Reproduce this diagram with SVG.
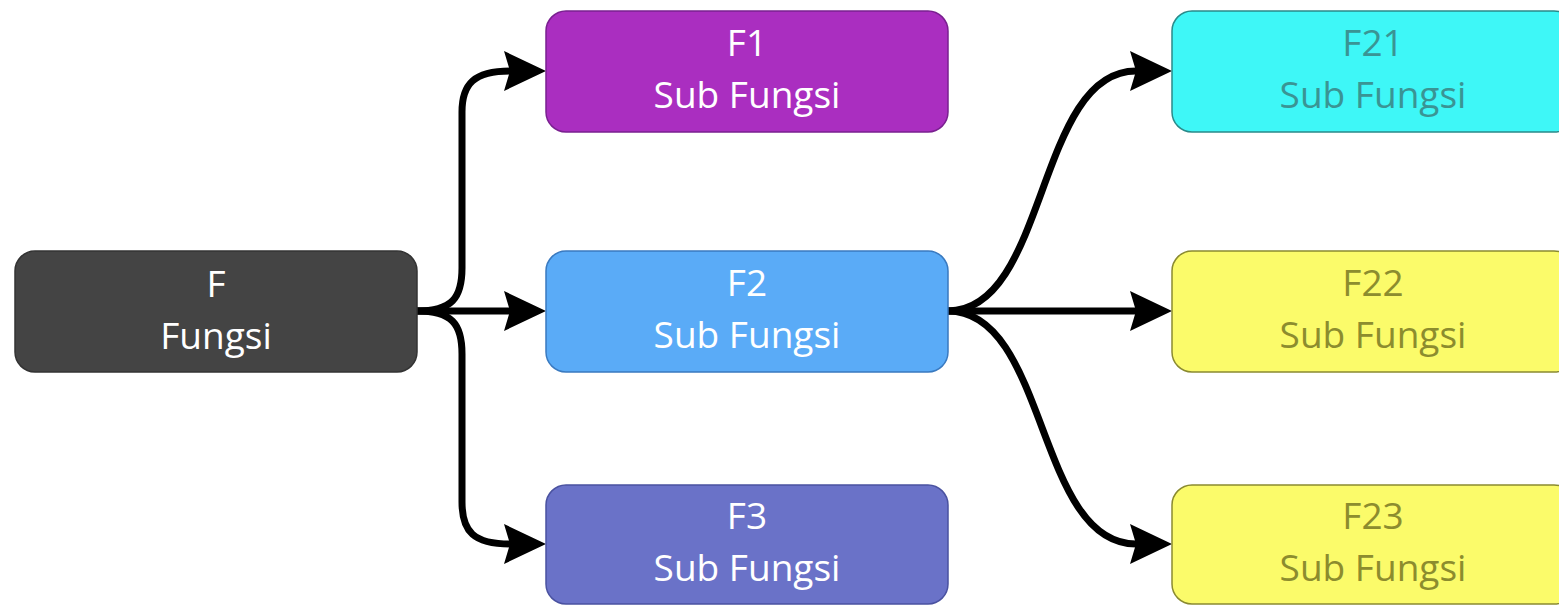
<svg xmlns="http://www.w3.org/2000/svg" width="1559" height="605" viewBox="0 0 1559 605">
<style>
.box{stroke-width:1.5}
.t{font-family:"Open Sans","Liberation Sans",sans-serif;font-size:37px;font-weight:500;text-anchor:middle}
.w{fill:#ffffff}
.c{fill:#3a9494}
.y{fill:#8c8c2e}
.con{fill:none;stroke:#000;stroke-width:7;marker-end:url(#ah)}
</style>
<defs>
<marker id="ah" markerUnits="userSpaceOnUse" markerWidth="44" markerHeight="42" viewBox="0 0 44 42" refX="6" refY="21" orient="auto">
<path d="M0,1 L42,21 L0,41 L6,21 z" fill="#000"/>
</marker>
</defs>
<rect width="1559" height="605" fill="#ffffff"/>
<g id="connectors">
<path class="con" d="M417,311 C452,311 462,298 462,268 L462,112 C462,84 474,71 510,71"/>
<path class="con" d="M417,311 L510,311"/>
<path class="con" d="M417,311 C452,311 462,324 462,354 L462,502 C462,532 474,544 510,544"/>
<path class="con" d="M948,311 C1048,311 1036,71 1136,71"/>
<path class="con" d="M948,311 L1136,311"/>
<path class="con" d="M948,311 C1048,311 1036,544 1136,544"/>
</g>
<g id="F">
<rect class="box" x="15" y="251" width="402" height="121" rx="20" fill="#444444" stroke="#333333"/>
<text class="t w" x="216" y="297">F</text>
<text class="t w" x="216" y="349">Fungsi</text>
</g>
<g id="F1">
<rect class="box" x="546" y="11" width="402" height="121" rx="20" fill="#aa2ec0" stroke="#7a2090"/>
<text class="t w" x="747" y="56">F1</text>
<text class="t w" x="747" y="108">Sub Fungsi</text>
</g>
<g id="F2">
<rect class="box" x="546" y="251" width="402" height="121" rx="20" fill="#5aabf7" stroke="#3a7ac0"/>
<text class="t w" x="747" y="296">F2</text>
<text class="t w" x="747" y="348">Sub Fungsi</text>
</g>
<g id="F3">
<rect class="box" x="546" y="485" width="402" height="119" rx="20" fill="#6a72c8" stroke="#4a52a0"/>
<text class="t w" x="747" y="529">F3</text>
<text class="t w" x="747" y="581">Sub Fungsi</text>
</g>
<g id="F21">
<rect class="box" x="1172" y="11" width="402" height="121" rx="20" fill="#3ef7f7" stroke="#2a8a8a"/>
<text class="t c" x="1373" y="56">F21</text>
<text class="t c" x="1373" y="108">Sub Fungsi</text>
</g>
<g id="F22">
<rect class="box" x="1172" y="251" width="402" height="121" rx="20" fill="#fbfb6a" stroke="#8a8a30"/>
<text class="t y" x="1373" y="296">F22</text>
<text class="t y" x="1373" y="348">Sub Fungsi</text>
</g>
<g id="F23">
<rect class="box" x="1172" y="485" width="402" height="119" rx="20" fill="#fbfb6a" stroke="#8a8a30"/>
<text class="t y" x="1373" y="529">F23</text>
<text class="t y" x="1373" y="581">Sub Fungsi</text>
</g>
</svg>
